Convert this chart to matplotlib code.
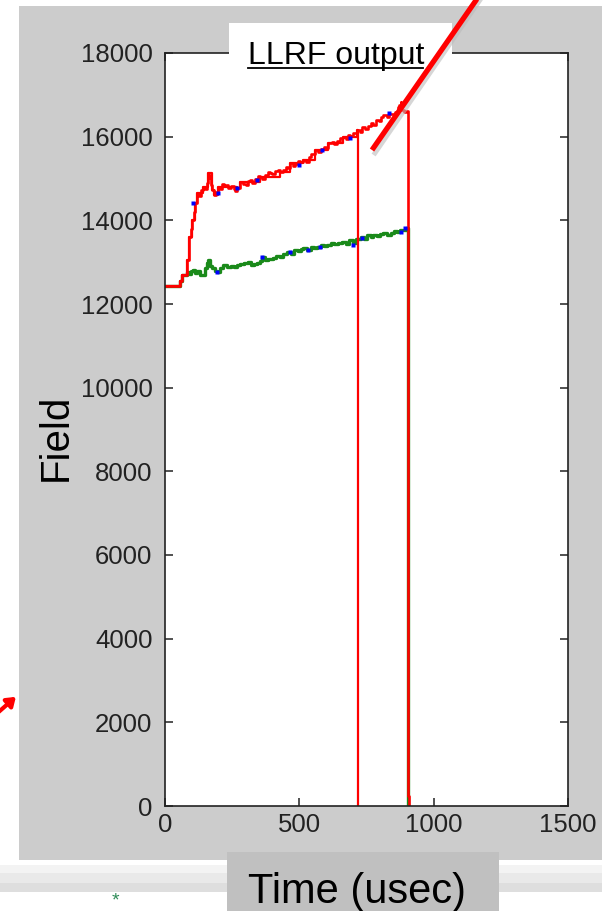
import numpy as np
import matplotlib
matplotlib.use("Agg")
from matplotlib import pyplot as plt
from matplotlib.patches import Rectangle, FancyArrowPatch
from matplotlib.lines import Line2D

plt.rcParams["font.family"] = ["Liberation Sans", "DejaVu Sans"]

# Red trace (LLRF output, pulse ending ~903 usec)
red_t = [0, 56, 63, 81, 90, 95, 100, 108, 112, 120, 128, 135, 142, 150, 157, 160,
         165, 168, 172, 175, 183, 190, 198, 205, 212, 220, 228, 236, 245, 255, 262,
         269, 280, 290, 300, 310, 317, 325, 335, 345, 354, 362, 372, 382, 392, 400,
         410, 420, 429, 440, 450, 458, 466, 475, 485, 495, 504, 515, 525, 535, 545,
         560, 570, 580, 590, 600, 608, 620, 630, 640, 650, 664, 672, 680, 690, 700,
         716, 725, 735, 745, 755, 765, 775, 785, 795, 805, 813, 825, 835, 845, 855,
         866, 872, 877, 880, 890, 897, 903, 903, 909]
red_v = [12430, 12560, 12690, 13050, 13600, 13800, 14000, 14200, 14410, 14650, 14580,
         14720, 14800, 14760, 14890, 15130, 15060, 15010, 14850, 14720, 14600, 14680,
         14800, 14760, 14870, 14820, 14840, 14780, 14830, 14760, 14700, 14770, 14910,
         14880, 14850, 14930, 14960, 14900, 14990, 15060, 15030, 15000, 15080, 15150,
         15130, 15100, 15180, 15210, 15150, 15200, 15280, 15240, 15370, 15300, 15350,
         15420, 15390, 15440, 15400, 15520, 15580, 15680, 15640, 15700, 15760, 15720,
         15850, 15880, 15820, 15900, 15960, 15990, 15940, 16050, 16010, 16080, 16160,
         16120, 16220, 16180, 16260, 16320, 16280, 16400, 16380, 16470, 16510, 16460,
         16550, 16530, 16580, 16700, 16760, 16820, 16640, 16600, 16620, 16590, 250, 0]

# Second red trace, same pulse but cut at ~720 usec
red2_t = [0, 56, 63, 81, 90, 100, 112, 120, 142, 160, 175, 183, 198, 269, 280, 354,
          429, 466, 515, 560, 608, 664, 716, 720, 720]
red2_v = [12430, 12560, 12690, 13050, 13600, 14000, 14410, 14650, 14800, 15130, 14720,
          14600, 14800, 14770, 14910, 15030, 15150, 15370, 15440, 15680, 15850, 15990,
          16160, 16140, 0]

# Green trace
green_t = [0, 56, 63, 81, 88, 95, 105, 112, 120, 130, 142, 150, 155, 160, 167, 175,
           185, 194, 205, 217, 230, 245, 258, 269, 280, 295, 310, 320, 332, 343, 352,
           362, 372, 385, 403, 415, 428, 440, 455, 468, 480, 495, 505, 515, 530, 545,
           555, 567, 580, 592, 604, 618, 630, 645, 660, 672, 685, 701, 712, 728, 740,
           752, 765, 776, 790, 800, 812, 825, 840, 852, 865, 876, 890, 897, 903, 903]
green_v = [12430, 12560, 12690, 12760, 12720, 12790, 12810, 12740, 12780, 12700, 12690,
           12850, 12980, 13050, 12900, 12850, 12800, 12760, 12850, 12930, 12890, 12920,
           12880, 12930, 12950, 12980, 13000, 12930, 12960, 12980, 13030, 13120, 13060,
           13080, 13100, 13150, 13130, 13200, 13240, 13200, 13280, 13260, 13310, 13340,
           13300, 13370, 13330, 13360, 13420, 13380, 13410, 13450, 13430, 13470, 13480,
           13440, 13520, 13460, 13550, 13600, 13560, 13640, 13600, 13650, 13620, 13680,
           13700, 13660, 13690, 13740, 13720, 13780, 13760, 13810, 13790, 0]

# Blue trace, visible only where it peeks out
blue_t = [105, 198, 269, 343, 497, 585, 690, 832, 194, 362, 466, 534, 578, 698, 735, 877, 895]
blue_v = [14410, 14650, 14770, 14960, 15320, 15680, 15970, 16560, 12760, 13120, 13240,
          13290, 13360, 13410, 13580, 13720, 13810]

xticks = [0, 500, 1000, 1500]
yticks = [0, 2000, 4000, 6000, 8000, 10000, 12000, 14000, 16000, 18000]

W, H = 602, 911


def fx(px):
    return px / W


def fy(py):
    return 1 - py / H


fig = plt.figure(figsize=(6.02, 9.11), dpi=100)
fig.patch.set_facecolor("white")

# gray matlab panel
fig.add_artist(Rectangle((fx(19), fy(860)), fx(W) - fx(19) + 0.01, fy(6) - fy(860),
                         transform=fig.transFigure, facecolor="#cccccc", edgecolor="none", zorder=-2))
# footer bands
for y0, y1, c in [(865, 873, "#f3f3f3"), (873, 883, "#e9e9e9"), (883, 892, "#dedede")]:
    fig.add_artist(Rectangle((0, fy(y1)), 1, fy(y0) - fy(y1), transform=fig.transFigure,
                             facecolor=c, edgecolor="none", zorder=-2))

ax = fig.add_axes([fx(165), fy(806), fx(568) - fx(165), fy(53) - fy(806)])
ax.set_facecolor("white")
ax.plot(green_t, green_v, color="#1a8a1a", lw=2.4, drawstyle="steps-post")
ax.plot(red2_t, red2_v, color="red", lw=1.6, drawstyle="steps-post")
ax.plot(red_t, red_v, color="red", lw=1.9, drawstyle="steps-post")
ax.plot(blue_t, blue_v, ls="none", marker="s", ms=2.2, color="blue", mec="none")

ax.set_xlim(0, 1500)
ax.set_ylim(0, 18000)
ax.set_xticks(xticks)
ax.set_yticks(yticks)
ax.set_xticklabels([str(t) for t in xticks])
ax.set_yticklabels([str(t) for t in yticks])
ax.tick_params(direction="in", length=6, width=1.1, color="#222222", top=True, right=True,
               labelsize=18.5, labelcolor="#222222")
ax.tick_params(axis="x", pad=5)
ax.tick_params(axis="y", pad=9)
for s in ax.spines.values():
    s.set_linewidth(1.2)
    s.set_color("#222222")

# title box
fig.add_artist(Rectangle((fx(229), fy(70)), fx(452) - fx(229), fy(23) - fy(70),
                         transform=fig.transFigure, facecolor="white", edgecolor="none", zorder=1))
fig.text(fx(336), fy(64), "LLRF output", ha="center", va="baseline", fontsize=23,
         color="black", zorder=2)
fig.add_artist(Line2D([fx(248), fx(423)], [fy(68), fy(68)], color="black", lw=1.3, zorder=2))

# y label
fig.text(fx(56), fy(437), "Field", rotation=90, ha="center", va="center", fontsize=29)

# x label box
fig.add_artist(Rectangle((fx(227), 0), fx(499) - fx(227), fy(852), transform=fig.transFigure,
                         facecolor="#c0c0c0", edgecolor="none", zorder=1))
fig.text(fx(357), fy(903), "Time (usec)", ha="center", va="baseline", fontsize=30, zorder=2)

# red annotation line
fig.add_artist(Line2D([fx(375), fx(482)], [fy(153), fy(-3)], color="#bbbbbb", lw=3.5,
                      alpha=0.6, zorder=4))
fig.add_artist(Line2D([fx(372), fx(479)], [fy(150), fy(-4)], color="red", lw=3.8,
                      solid_capstyle="butt", zorder=5))

# red arrow on the left
fig.add_artist(FancyArrowPatch((fx(-6), fy(716)), (fx(18), fy(695)), transform=fig.transFigure,
                               arrowstyle="-|>,head_length=5,head_width=3.5", color="red",
                               lw=3, zorder=5))

# small green logo fragment
fig.text(fx(115), fy(909), "*", color="#2e8b57", fontsize=14, ha="center", va="bottom")

fig.savefig("out.png", dpi=100)
